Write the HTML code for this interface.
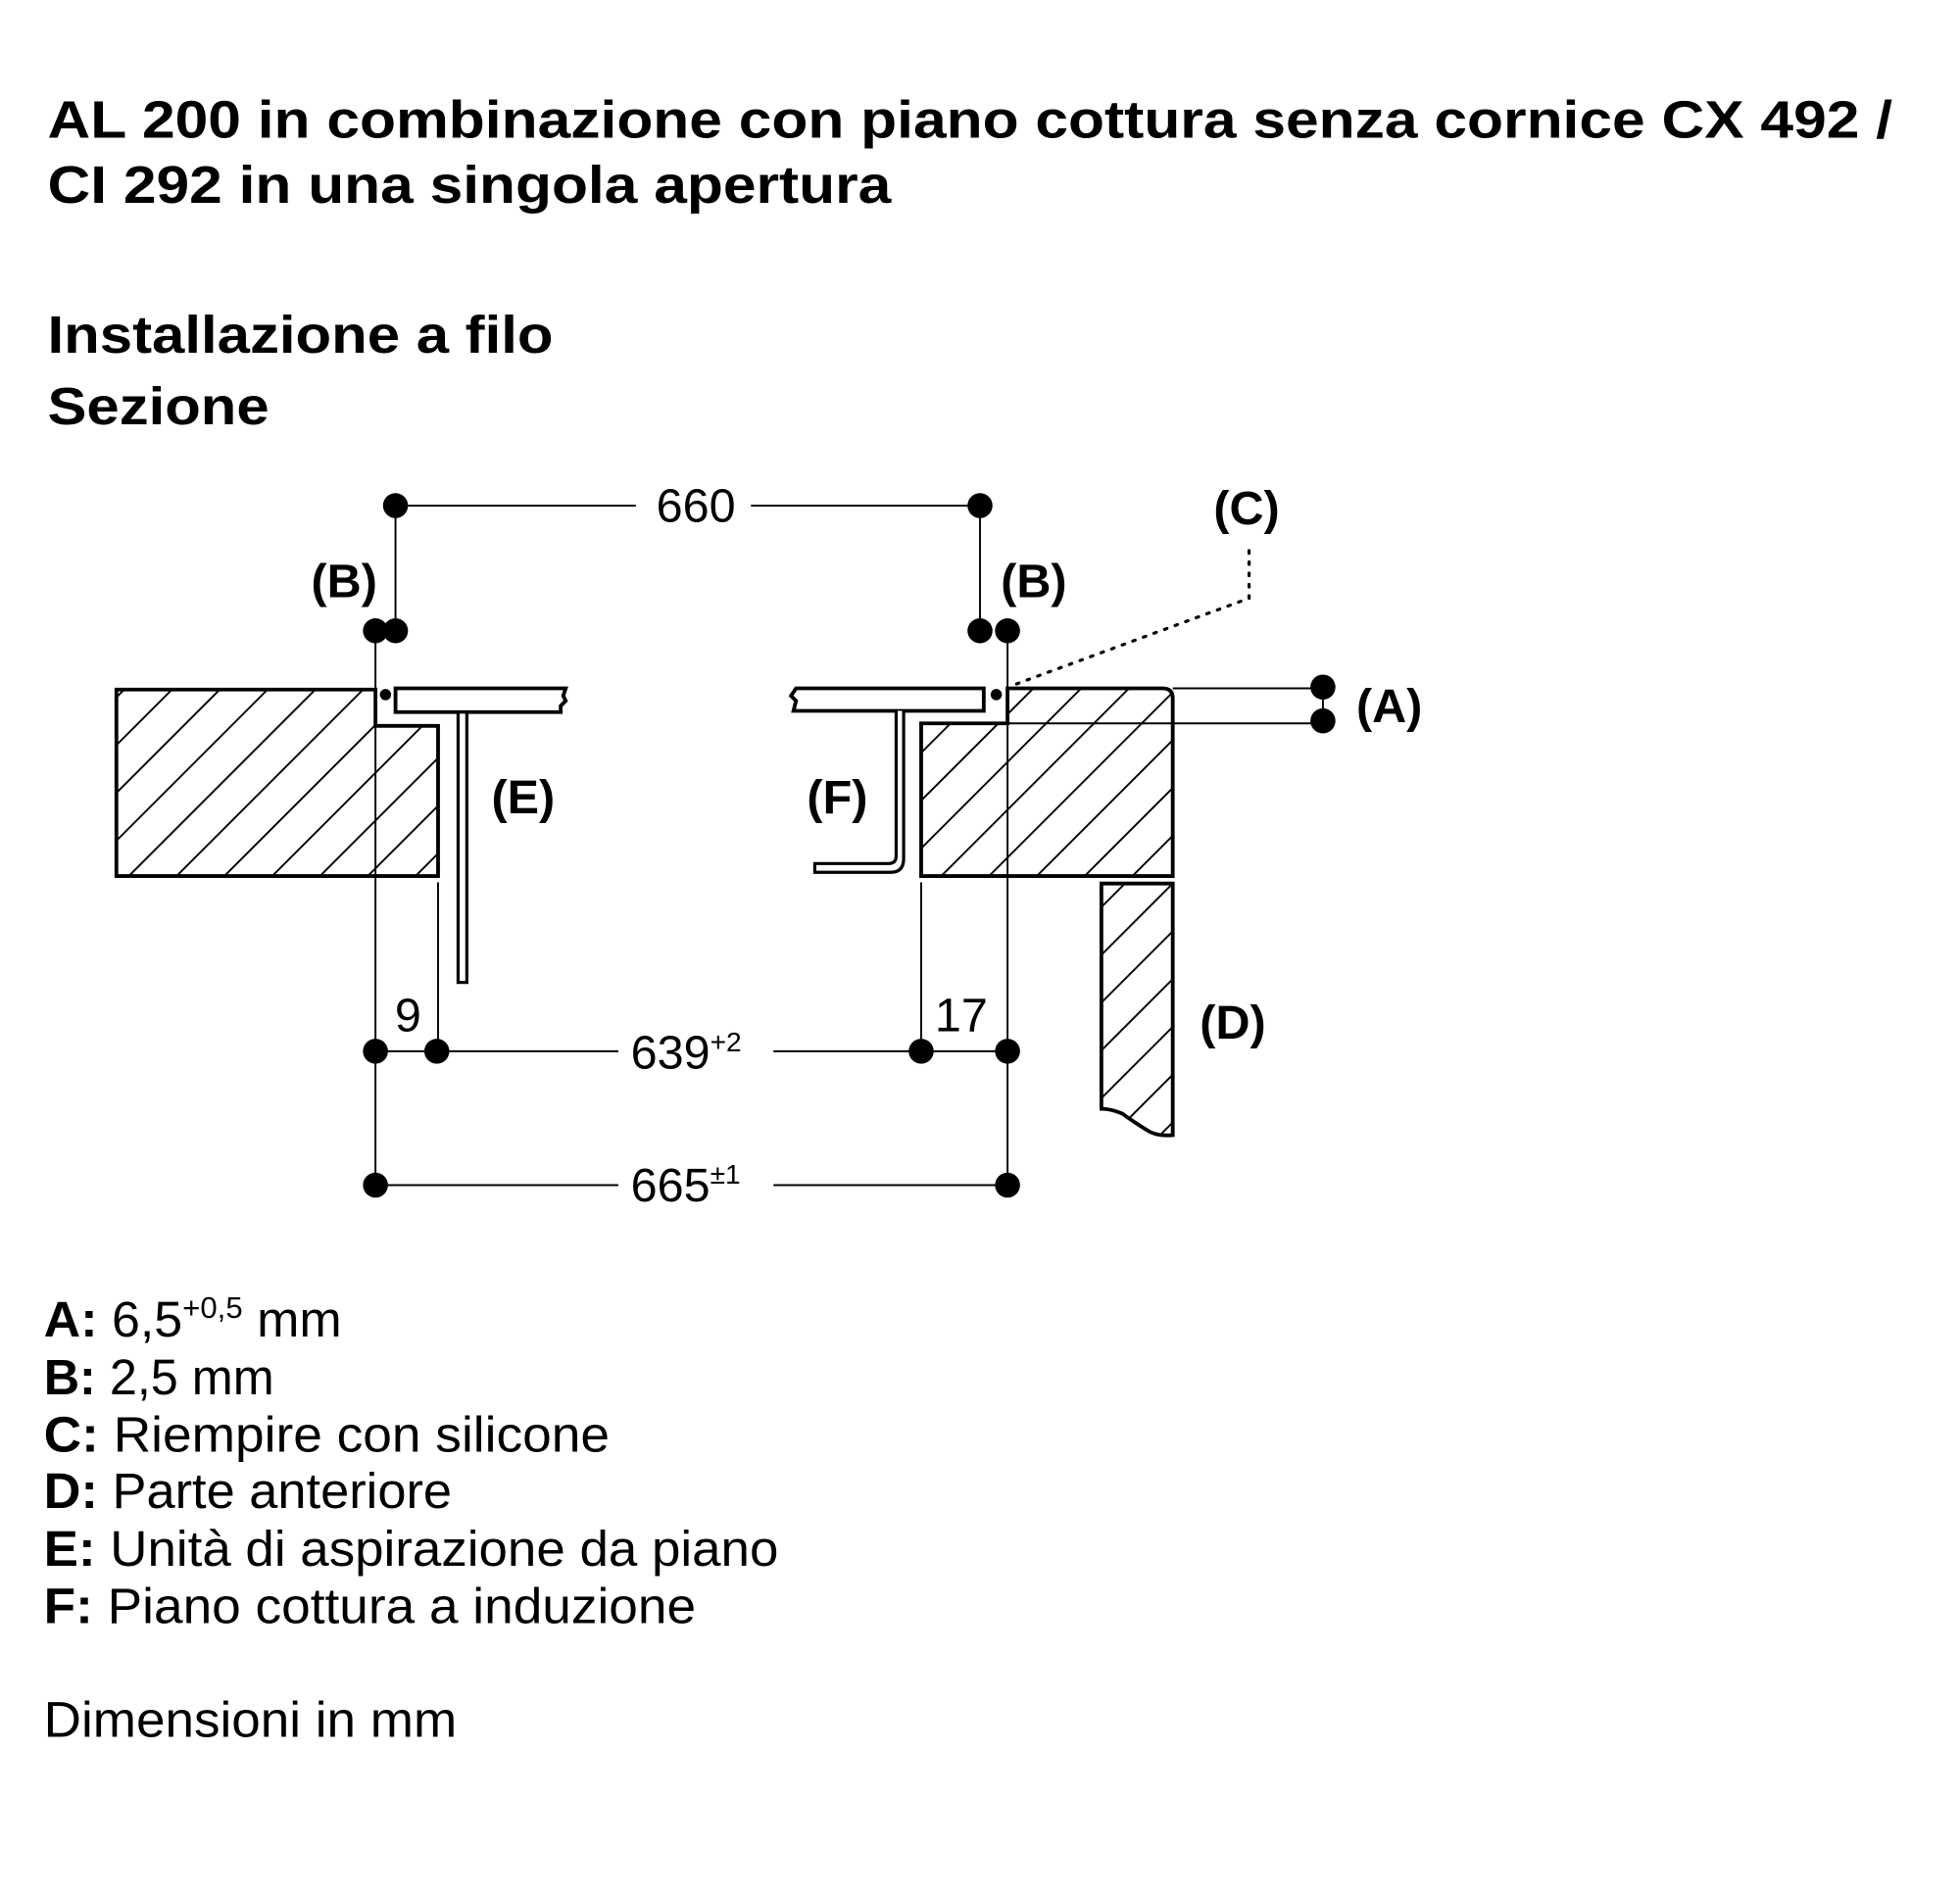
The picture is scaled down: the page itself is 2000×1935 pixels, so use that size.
<!DOCTYPE html>
<html><head><meta charset="utf-8"><style>
html,body{margin:0;padding:0;background:#fff;}
svg{display:block;}
text{font-family:"Liberation Sans",Arial,sans-serif;fill:#000;}
.b{font-weight:bold;}
</style></head><body>
<svg width="2000" height="1935" viewBox="0 0 1566 1515" xmlns="http://www.w3.org/2000/svg">
<defs>
<pattern id="h" patternUnits="userSpaceOnUse" width="27" height="27" patternTransform="rotate(45)">
<line x1="0" y1="0" x2="0" y2="27" stroke="#000" stroke-width="3"/>
</pattern>
</defs>
<!-- titles -->
<text class="b" x="38" y="110" font-size="42" textLength="1474" lengthAdjust="spacingAndGlyphs">AL 200 in combinazione con piano cottura senza cornice CX 492 /</text>
<text class="b" x="38" y="162" font-size="42" textLength="674" lengthAdjust="spacingAndGlyphs">CI 292 in una singola apertura</text>
<text class="b" x="38" y="282" font-size="42" textLength="404" lengthAdjust="spacingAndGlyphs">Installazione a filo</text>
<text class="b" x="38" y="339" font-size="42" textLength="177" lengthAdjust="spacingAndGlyphs">Sezione</text>

<g stroke="#000" fill="none">
<line x1="316" y1="404" x2="508" y2="404" stroke-width="1.5"/>
<line x1="600" y1="404" x2="783" y2="404" stroke-width="1.5"/>
<line x1="316" y1="404" x2="316" y2="504" stroke-width="1.5"/>
<line x1="783" y1="404" x2="783" y2="504" stroke-width="1.5"/>
<line x1="300" y1="504" x2="300" y2="947" stroke-width="1.5"/>
<line x1="805" y1="504" x2="805" y2="947" stroke-width="1.5"/>
<line x1="350" y1="705" x2="350" y2="840" stroke-width="1.5"/>
<line x1="736" y1="705" x2="736" y2="840" stroke-width="1.5"/>
<line x1="300" y1="840" x2="494" y2="840" stroke-width="1.5"/>
<line x1="618" y1="840" x2="805" y2="840" stroke-width="1.5"/>
<line x1="300" y1="947" x2="494" y2="947" stroke-width="1.5"/>
<line x1="618" y1="947" x2="805" y2="947" stroke-width="1.5"/>
<line x1="937" y1="550" x2="1057" y2="550" stroke-width="1.5"/>
<line x1="805" y1="578" x2="1057" y2="578" stroke-width="1.5"/>
<line x1="1057" y1="550" x2="1057" y2="578" stroke-width="1.5"/>
<polyline points="998,440 998,478 808,548" stroke-width="2.5" stroke-dasharray="2,7" stroke-linecap="round"/>

<path d="M93,551 H300 V580 H350 V700 H93 Z" fill="url(#h)" stroke-width="3"/>
<path d="M316,550 H452 L450,556 L452,560 L448,564 V569 H316 Z" fill="#fff" stroke-width="3"/>
<rect x="366" y="569" width="7" height="216" fill="#fff" stroke-width="2.5"/>

<path d="M805,550 H929 Q937,550 937,558 V700 H736 V578 H805 Z" fill="url(#h)" stroke-width="3"/>
<path d="M786,550 H636 L632,556 L636,560 L634,568 H786 Z" fill="#fff" stroke-width="3"/>
<path d="M716,568 V684 Q716,690 710,690 H651 V697 H712 Q722,697 722,686 V568" fill="#fff" stroke-width="2.5"/>

<path d="M880,706 H937 V907 Q925,908 918,904 Q905,896 897,890 Q888,886 880,886 Z" fill="url(#h)" stroke-width="3"/>
</g>

<g fill="#000">
<circle cx="316" cy="404" r="10"/><circle cx="783" cy="404" r="10"/>
<circle cx="300" cy="504" r="10"/><circle cx="316" cy="504" r="10"/>
<circle cx="783" cy="504" r="10"/><circle cx="805" cy="504" r="10"/>
<circle cx="300" cy="840" r="10"/><circle cx="349" cy="840" r="10"/>
<circle cx="736" cy="840" r="10"/><circle cx="805" cy="840" r="10"/>
<circle cx="300" cy="947" r="10"/><circle cx="805" cy="947" r="10"/>
<circle cx="1057" cy="549" r="10"/><circle cx="1057" cy="576" r="10"/>
<circle cx="308" cy="555" r="4.5"/><circle cx="796" cy="555" r="4.5"/>
</g>

<text x="556" y="417" font-size="38" text-anchor="middle">660</text>
<text class="b" x="275" y="477" font-size="38" text-anchor="middle">(B)</text>
<text class="b" x="826" y="477" font-size="38" text-anchor="middle">(B)</text>
<text class="b" x="996" y="419" font-size="38" text-anchor="middle">(C)</text>
<text class="b" x="1110" y="577" font-size="38" text-anchor="middle">(A)</text>
<text class="b" x="418" y="650" font-size="38" text-anchor="middle">(E)</text>
<text class="b" x="669" y="650" font-size="38" text-anchor="middle">(F)</text>
<text class="b" x="985" y="830" font-size="38" text-anchor="middle">(D)</text>
<text x="326" y="824" font-size="38" text-anchor="middle">9</text>
<text x="768" y="824" font-size="38" text-anchor="middle">17</text>
<text x="504" y="854" font-size="38">639<tspan font-size="22" dy="-14">+2</tspan></text>
<text x="504" y="960" font-size="38">665<tspan font-size="22" dy="-14">±1</tspan></text>

<g font-size="40">
<text x="35" y="1068" textLength="238" lengthAdjust="spacingAndGlyphs"><tspan class="b">A:</tspan> 6,5<tspan font-size="24" dy="-15">+0,5</tspan><tspan dy="15"> mm</tspan></text>
<text x="35" y="1114" textLength="184" lengthAdjust="spacingAndGlyphs"><tspan class="b">B:</tspan> 2,5 mm</text>
<text x="35" y="1160" textLength="452" lengthAdjust="spacingAndGlyphs"><tspan class="b">C:</tspan> Riempire con silicone</text>
<text x="35" y="1205" textLength="326" lengthAdjust="spacingAndGlyphs"><tspan class="b">D:</tspan> Parte anteriore</text>
<text x="35" y="1251" textLength="587" lengthAdjust="spacingAndGlyphs"><tspan class="b">E:</tspan> Unità di aspirazione da piano</text>
<text x="35" y="1297" textLength="521" lengthAdjust="spacingAndGlyphs"><tspan class="b">F:</tspan> Piano cottura a induzione</text>
<text x="35" y="1388" textLength="330" lengthAdjust="spacingAndGlyphs">Dimensioni in mm</text>
</g>
</svg>
</body></html>
